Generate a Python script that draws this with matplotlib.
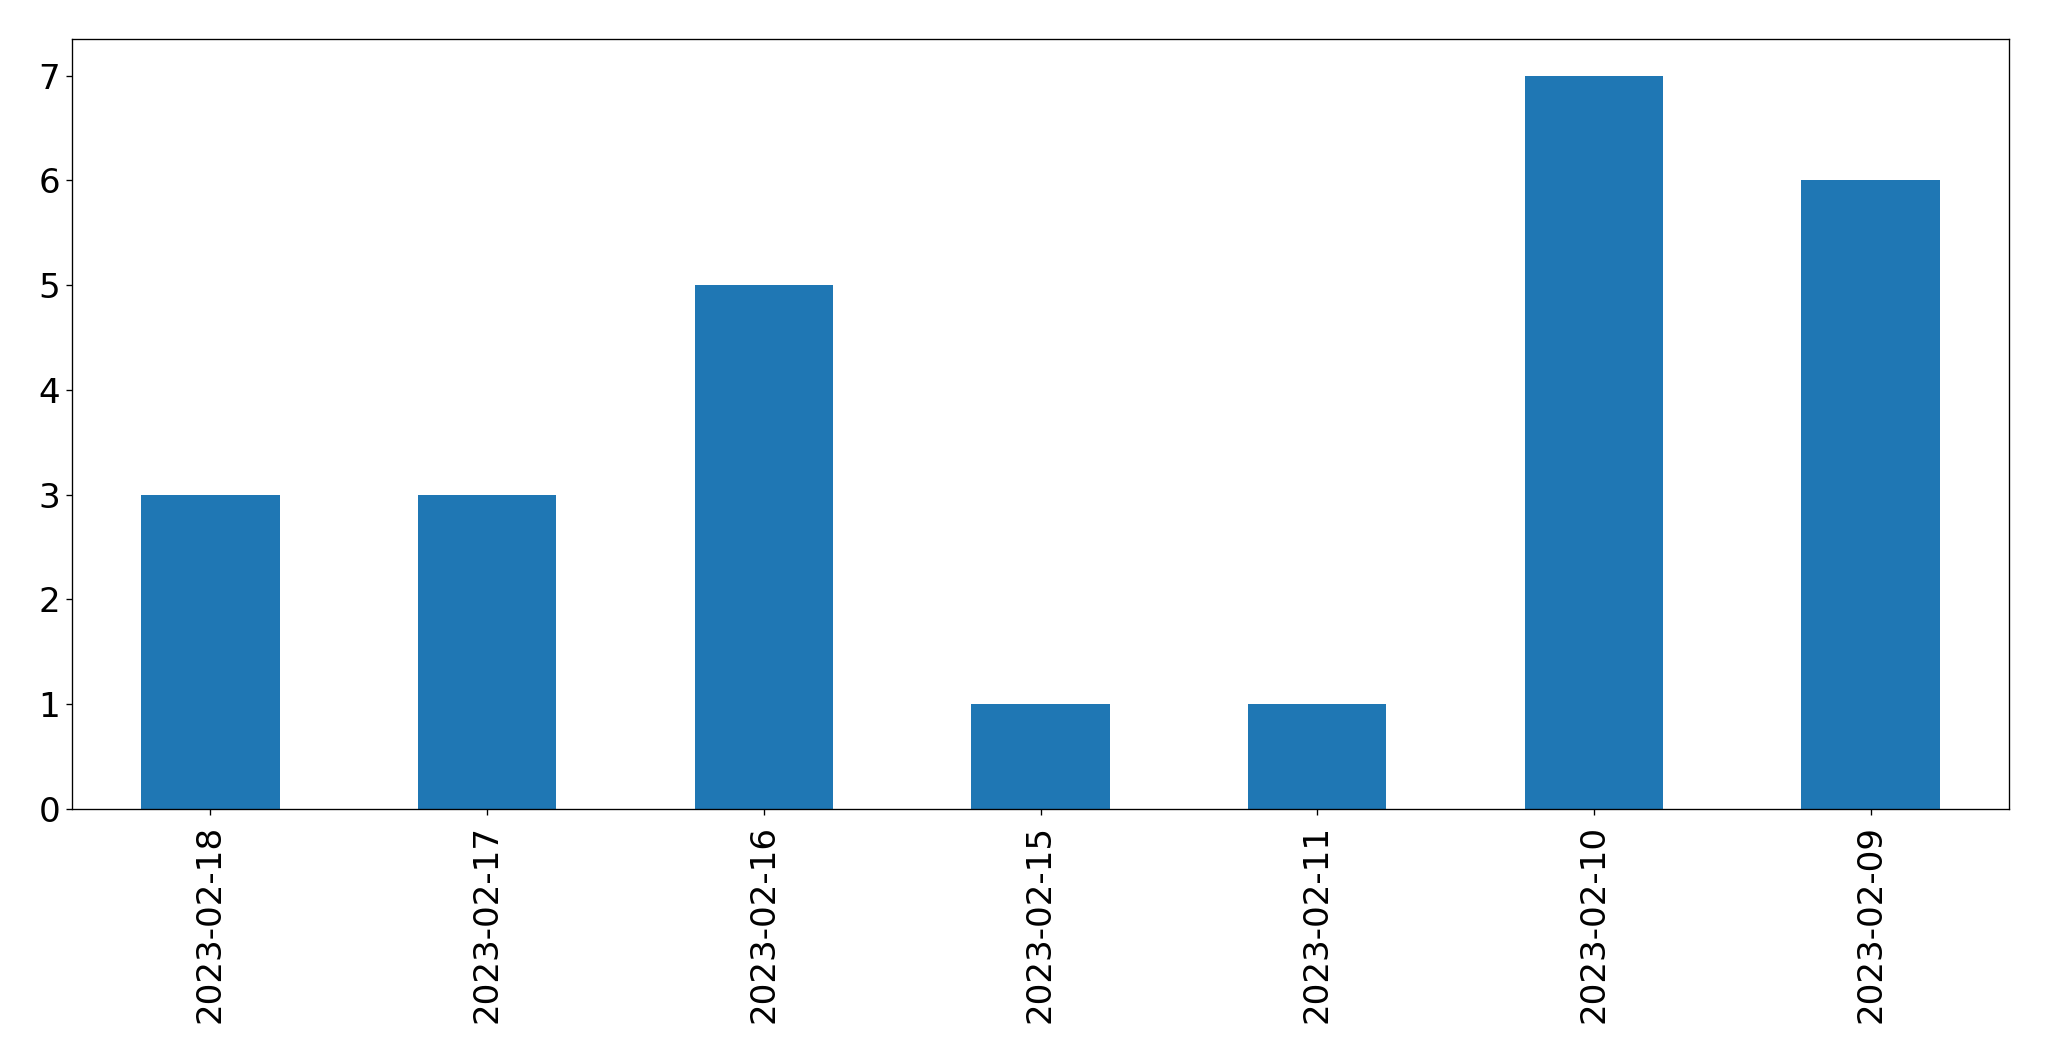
import matplotlib
matplotlib.use('Agg')
import matplotlib.pyplot as plt
import numpy as np

dates = ['2023-02-18', '2023-02-17', '2023-02-16', '2023-02-15',
         '2023-02-11', '2023-02-10', '2023-02-09']
counts = [3, 3, 5, 1, 1, 7, 6]

W, H = 2049, 1061
DPI = 120
fig = plt.figure(figsize=(W / DPI, H / DPI), dpi=DPI)
ax = fig.add_axes([72 / W, 1 - 809 / H, (2009 - 72) / W, (809 - 39) / H])

x = np.arange(len(dates))
ax.bar(x, counts, width=0.5, color='#1f77b4')
ax.set_xlim(-0.5, len(dates) - 0.5)
ax.set_ylim(0, 7.35)
ax.set_xticks(x)
ax.set_xticklabels(dates, rotation=90)
ax.tick_params(axis='both', labelsize=20.5)
ax.tick_params(axis='x', pad=6)

fig.savefig('out.png', dpi=DPI)
